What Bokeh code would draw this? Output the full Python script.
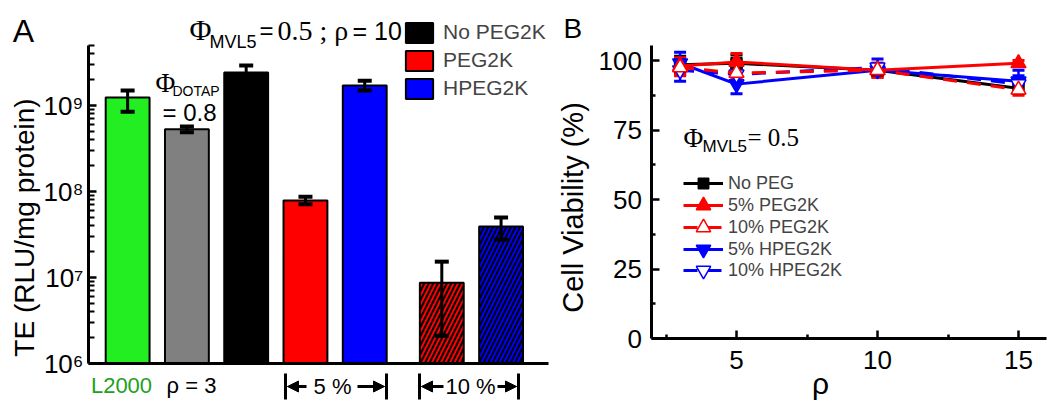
import math
from bokeh.plotting import figure
from bokeh.models import (Range1d, FixedTicker, CustomJSTickFormatter, Label, Whisker,
                          TeeHead, NormalHead, Arrow, ColumnDataSource, Legend, LegendItem)
from bokeh.layouts import row
from bokeh.embed import file_html
from bokeh.resources import INLINE

SANS = "Liberation Sans"
SERIF = "Liberation Serif"

# ---------------- Panel A data ----------------
te_groups = ["L2000", "rho3", "No PEG2K", "5% PEG2K", "5% HPEG2K", "10% PEG2K", "10% HPEG2K"]
te_values = [1.24e9, 5.3e8, 2.42e9, 7.85e7, 1.71e9, 8.7e6, 3.92e7]
te_upper = [1.5e9, 5.7e8, 2.92e9, 8.7e7, 1.95e9, 1.53e7, 4.99e7]
te_lower = [8.5e8, 4.9e8, 2.0e9, 7.1e7, 1.5e9, 2.1e6, 2.77e7]
legend_a = ["No PEG2K", "PEG2K", "HPEG2K"]

# ---------------- Panel B data ----------------
rho = [3, 5, 10, 15]
via_nopeg = [98.5, 99.0, 96.5, 90.0]
err_nopeg = [3.0, 3.0, 2.0, 2.0]
via_peg5 = [98.0, 99.5, 96.5, 99.0]
err_peg5 = [3.0, 3.0, 2.5, 1.0]
via_peg10 = [97.5, 95.5, 96.5, 89.5]
err_peg10 = [3.0, 2.0, 2.5, 2.0]
via_hpeg5 = [99.0, 91.5, 96.5, 92.5]
err_hpeg5 = [4.0, 3.5, 2.0, 4.0]
via_hpeg10 = [96.5, 95.0, 97.5, 91.5]
err_hpeg10 = [4.0, 2.0, 3.0, 3.0]

# ---------------- styles / layout ----------------
bar_pos = [1, 2, 3, 4, 5, 6.3, 7.3]
bar_colors = ["#22EE22", "#808080", "#000000", "#FF0000", "#0000FF", "#FF0000", "#0000FF"]
bar_hatch = [" ", " ", " ", " ", " ", "/", "/"]

H = 408
WA = 552
WB = 498


def span(v0, p0, v1, p1, total):
    """value v0 at pixel p0 and v1 at pixel p1 -> values at pixel 0 and pixel total"""
    k = (v1 - v0) / (p1 - p0)
    return v0 - p0 * k, v0 + (total - p0) * k


# ================= Panel A =================
xa0, xa1 = span(0.34, 88, 8.1, 548, WA)
ya_top, ya_bot = span(math.log10(5e9), 45, 6.0, 363, H)
pa = figure(width=WA, height=H, x_range=Range1d(xa0, xa1),
            y_range=Range1d(10 ** ya_bot, 10 ** ya_top),
            y_axis_type="log", output_backend="svg", toolbar_location=None,
            min_border_left=0, min_border_right=0, min_border_top=0, min_border_bottom=0)
pa.outline_line_color = None
pa.grid.visible = False
pa.background_fill_color = "white"
pa.border_fill_color = "white"

pa.xaxis.fixed_location = 1e6
pa.xaxis.bounds = (0.34, 8.1)
pa.xaxis.ticker = FixedTicker(ticks=[])
pa.xaxis.axis_line_width = 3
pa.xaxis.major_tick_line_color = None
pa.xaxis.minor_tick_line_color = None

minors = [k * 10 ** n for n in range(6, 10) for k in range(2, 10) if k * 10 ** n <= 5e9]
pa.yaxis.fixed_location = 0.34
pa.yaxis.bounds = (1e6, 5e9)
pa.yaxis.ticker = FixedTicker(ticks=[1e6, 1e7, 1e8, 1e9], minor_ticks=minors)
pa.yaxis.formatter = CustomJSTickFormatter(code="""
const s = {6:'\\u2076', 7:'\\u2077', 8:'\\u2078', 9:'\\u2079'};
const e = Math.round(Math.log10(tick));
return '10' + s[e];
""")
pa.yaxis.axis_line_width = 3
pa.yaxis.major_tick_line_width = 2.5
pa.yaxis.minor_tick_line_width = 2
pa.yaxis.major_tick_in = 8
pa.yaxis.major_tick_out = 0
pa.yaxis.minor_tick_in = 6
pa.yaxis.minor_tick_out = 0
pa.yaxis.major_label_text_font = SANS
pa.yaxis.major_label_text_font_size = "26px"
pa.yaxis.major_label_text_color = "black"
pa.yaxis.major_label_standoff = 5

src_a = ColumnDataSource(dict(x=bar_pos, top=te_values, up=te_upper, lo=te_lower,
                              color=bar_colors, hatch=bar_hatch, name=te_groups))
bars = pa.vbar(x="x", top="top", bottom=1e6, width=0.74, source=src_a,
               fill_color="color", line_color="black", line_width=2,
               hatch_pattern="hatch", hatch_color="black", hatch_weight=2, hatch_scale=9)
wa = Whisker(source=src_a, base="x", upper="up", lower="lo", line_color="black", line_width=3,
             level="overlay",
             upper_head=TeeHead(size=14, line_width=4, line_color="black"),
             lower_head=TeeHead(size=14, line_width=4, line_color="black"))
pa.add_layout(wa)

leg_a = Legend(items=[LegendItem(label=legend_a[0], renderers=[bars], index=2),
                      LegendItem(label=legend_a[1], renderers=[bars], index=3),
                      LegendItem(label=legend_a[2], renderers=[bars], index=4)],
               location=(402, 306), padding=0, margin=0, spacing=0,
               glyph_width=34, glyph_height=25, label_height=28, label_standoff=7,
               label_text_font=SANS, label_text_font_size="21px",
               border_line_color=None, background_fill_alpha=0)
pa.add_layout(leg_a)


def lab(p, x, y, text, size, font=SANS, color="black", align="left", angle=0):
    # x, y: pixels from the canvas's bottom-left (frame covers the whole canvas)
    p.add_layout(Label(x=x, y=y, x_units="screen", y_units="screen", text=text,
                       text_font=font, text_font_size=size, text_color=color,
                       text_align=align, text_baseline="middle", angle=angle))


def bracket_arrow(p, x_from, x_to, y):
    # arrow pointing to a vertical bar at x_to
    d = 1 if x_to > x_from else -1
    p.add_layout(Arrow(x_start=x_from, y_start=y, x_end=x_to - d * 2, y_end=y,
                       start_units="screen", end_units="screen", line_width=3,
                       end=NormalHead(size=11, fill_color="black", line_color="black", line_width=1)))
    p.add_layout(Arrow(x_start=x_to - d * 2, y_start=y, x_end=x_to, y_end=y,
                       start_units="screen", end_units="screen", line_width=1,
                       end=TeeHead(size=26, line_width=3, line_color="black")))


lab(pa, 23, H - 30, "A", "32px", align="center")
lab(pa, 24, H - 227, "TE (RLU/mg protein)", "28px", align="center", angle=math.pi / 2)
lab(pa, 189, H - 29, "\u03a6", "30px", font=SERIF)
lab(pa, 209, H - 41, "MVL5", "18px")
lab(pa, 259, H - 30, "=", "24px")
lab(pa, 277, H - 30, "0.5 ; \u03c1", "28px", font=SERIF)
lab(pa, 352, H - 30, "= 10", "25px")
lab(pa, 155, H - 82, "\u03a6", "27px", font=SERIF)
lab(pa, 172, H - 90, "DOTAP", "14px")
lab(pa, 162, H - 112, "= 0.8", "24px")
lab(pa, 121, H - 385, "L2000", "22px", color="#22A022", align="center")
lab(pa, 191, H - 385, "\u03c1 = 3", "22px", align="center")
lab(pa, 332, H - 386, "5 %", "22px", align="center")
lab(pa, 470, H - 386, "10 %", "22px", align="center")
bracket_arrow(pa, 306, 285, H - 386)
bracket_arrow(pa, 357, 386, H - 386)
bracket_arrow(pa, 443, 419, H - 386)
bracket_arrow(pa, 497, 518, H - 386)

# ================= Panel B =================
OX = WA  # page x of panel B's left edge
xb0, xb1 = span(2.0, 651.4 - OX, 15.0, 1018 - OX, WB)
yb_top, yb_bot = span(100.0, 60, 0.0, 338, H)
pb = figure(width=WB, height=H, x_range=Range1d(xb0, xb1), y_range=Range1d(yb_bot, yb_top),
            output_backend="svg", toolbar_location=None,
            min_border_left=0, min_border_right=0, min_border_top=0, min_border_bottom=0)
pb.outline_line_color = None
pb.grid.visible = False
pb.background_fill_color = "white"
pb.border_fill_color = "white"
pb.xaxis.fixed_location = 0
pb.xaxis.bounds = (2, 16)
pb.yaxis.fixed_location = 2
pb.yaxis.bounds = (0, 105.4)
pb.xaxis.ticker = FixedTicker(ticks=[5, 10, 15], minor_ticks=[2.5, 7.5, 12.5])
pb.yaxis.ticker = FixedTicker(ticks=[0, 25, 50, 75, 100], minor_ticks=[12.5, 37.5, 62.5, 87.5])
for ax in (pb.xaxis, pb.yaxis):
    ax.axis_line_width = 3
    ax.major_tick_line_width = 2.5
    ax.minor_tick_line_width = 2.5
    ax.major_tick_in = 8
    ax.major_tick_out = 0
    ax.minor_tick_in = 4
    ax.minor_tick_out = 0
    ax.major_label_text_font = SANS
    ax.major_label_text_font_size = "26px"
    ax.major_label_text_color = "black"
pb.yaxis.major_label_standoff = 10
pb.xaxis.major_label_standoff = 12

items_b = {}


def add_series(y, err, color, dash, marker, size, filled, label):
    src = ColumnDataSource(dict(x=rho, y=y, up=[a + b for a, b in zip(y, err)],
                                lo=[a - b for a, b in zip(y, err)]))
    w = Whisker(source=src, base="x", upper="up", lower="lo", line_color=color, line_width=2.5,
                upper_head=TeeHead(size=12, line_width=3, line_color=color),
                lower_head=TeeHead(size=12, line_width=3, line_color=color))
    pb.add_layout(w)
    ln = pb.line("x", "y", source=src, line_color=color, line_width=3, line_dash=dash)
    mk = pb.scatter("x", "y", source=src, marker=marker, size=size,
                    fill_color=color if filled else "white", line_color=color, line_width=1.5)
    items_b[label] = LegendItem(label=label, renderers=[ln, mk])


add_series(via_nopeg, err_nopeg, "black", "solid", "square", 11, True, "No PEG")
add_series(via_hpeg5, err_hpeg5, "#0000FF", "solid", "inverted_triangle", 15, True, "5% HPEG2K")
add_series(via_hpeg10, err_hpeg10, "#0000FF", "14 10", "inverted_triangle", 15, False, "10% HPEG2K")
add_series(via_peg5, err_peg5, "#FF0000", "solid", "triangle", 15, True, "5% PEG2K")
add_series(via_peg10, err_peg10, "#FF0000", "14 10", "triangle", 15, False, "10% PEG2K")

legend_b_order = ["No PEG", "5% PEG2K", "10% PEG2K", "5% HPEG2K", "10% HPEG2K"]
legend_b_rows = [183, 205, 227, 249, 270]
for key, yc in zip(legend_b_order, legend_b_rows):
    gh = 36 if key != "No PEG" else 26
    pb.add_layout(Legend(items=[items_b[key]], location=(683 - OX, H - (yc + gh / 2)),
                         padding=0, margin=0, spacing=0,
                         glyph_width=40, glyph_height=gh, label_height=21, label_standoff=5,
                         label_text_font=SANS, label_text_font_size="18px",
                         border_line_color=None, background_fill_alpha=0))

lab(pb, 563 - OX, H - 28, "B", "28px")
lab(pb, 572 - OX, H - 207, "Cell Viability (%)", "29px", align="center", angle=math.pi / 2)
lab(pb, 820 - OX, H - 383, "\u03c1", "30px", align="center")
lab(pb, 683 - OX, H - 137, "\u03a6", "27px", font=SERIF)
lab(pb, 702 - OX, H - 146, "MVL5", "17px")
lab(pb, 747 - OX, H - 137, "= 0.5", "25px", font=SERIF)

layout = row(pa, pb)
open("out.html", "w", encoding="utf-8").write(file_html(layout, INLINE))
